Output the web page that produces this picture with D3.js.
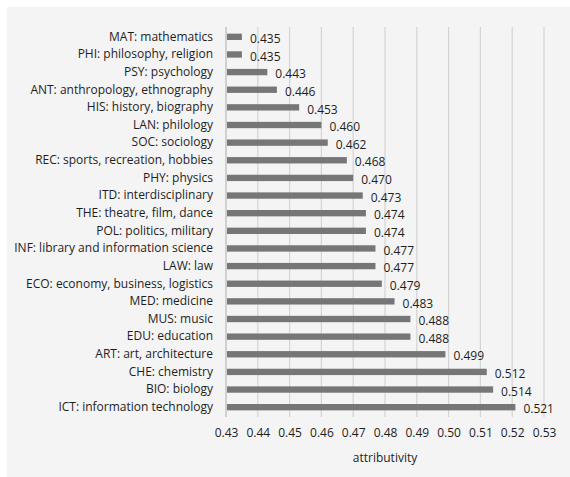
<!DOCTYPE html>
<html>
<head>
<meta charset="utf-8">
<script src="https://cdn.jsdelivr.net/npm/d3@7"></script>
<style>
  body { margin: 0; background: #fff; }
  text { font-family: "Open Sans", "DejaVu Sans", sans-serif; fill: #1e1e1e; }
</style>
</head>
<body>
<div id="chart"></div>
<script>
// categories top to bottom, with their attributivity
var categories = [
  "MAT: mathematics", "PHI: philosophy, religion", "PSY: psychology",
  "ANT: anthropology, ethnography", "HIS: history, biography", "LAN: philology",
  "SOC: sociology", "REC: sports, recreation, hobbies", "PHY: physics",
  "ITD: interdisciplinary", "THE: theatre, film, dance", "POL: politics, military",
  "INF: library and information science", "LAW: law", "ECO: economy, business, logistics",
  "MED: medicine", "MUS: music", "EDU: education", "ART: art, architecture",
  "CHE: chemistry", "BIO: biology", "ICT: information technology"
];
var values = [0.435, 0.435, 0.443, 0.446, 0.453, 0.460, 0.462, 0.468, 0.470, 0.473, 0.474,
              0.474, 0.477, 0.477, 0.479, 0.483, 0.488, 0.488, 0.499, 0.512, 0.514, 0.521];
var xTicks = [0.43, 0.44, 0.45, 0.46, 0.47, 0.48, 0.49, 0.50, 0.51, 0.52, 0.53];
var xTitle = "attributivity";

var W = 570, H = 477;
var svg = d3.select("#chart").append("svg").attr("width", W).attr("height", H);

svg.append("rect").attr("x", 7).attr("y", 7).attr("width", W - 7).attr("height", H - 7)
   .attr("fill", "#f4f4f4");

var x = d3.scaleLinear().domain([0.43, 0.53]).range([226, 544]);
var y = d3.scaleBand().domain(categories).range([28, 416]).paddingInner(0.64).paddingOuter(0.32);

// gridlines
svg.append("g").selectAll("line").data(xTicks).enter().append("line")
   .attr("x1", d => x(d)).attr("x2", d => x(d))
   .attr("y1", 27).attr("y2", 417)
   .attr("stroke", function (d, i) { return i === 0 ? "#b8b8b8" : "#d4d4d4"; })
   .attr("stroke-width", 1.2);

// x axis
var xAxis = d3.axisBottom(x).tickValues(xTicks).tickFormat(d3.format(".2f")).tickSize(0).tickPadding(0);
var gx = svg.append("g").attr("transform", "translate(0,428)").call(xAxis);
gx.select(".domain").remove();
gx.selectAll("text").style("font-size", "12px").style("font-family", null).attr("dy", "0.71em");

svg.append("text").attr("x", 385).attr("y", 462).attr("text-anchor", "middle")
   .style("font-size", "12px").text(xTitle);

// category labels
var yAxis = d3.axisLeft(y).tickSize(0).tickPadding(13);
var gy = svg.append("g").attr("transform", "translate(226,0)").call(yAxis);
gy.select(".domain").remove();
gy.selectAll("text").style("font-size", "12px").style("font-family", null);

// bars
svg.append("g").selectAll("rect").data(values).enter().append("rect")
   .attr("x", x(0.43) + 1)
   .attr("y", (d, i) => y(categories[i]))
   .attr("width", d => x(d) - x(0.43) - 1)
   .attr("height", y.bandwidth())
   .attr("fill", "#767676");

// value labels
svg.append("g").selectAll("text").data(values).enter().append("text")
   .attr("x", d => x(d) + 8)
   .attr("y", (d, i) => y(categories[i]) + y.bandwidth() / 2 + 2)
   .attr("dy", "0.35em")
   .style("font-size", "12px")
   .text(d => d3.format(".3f")(d));
</script>
</body>
</html>
